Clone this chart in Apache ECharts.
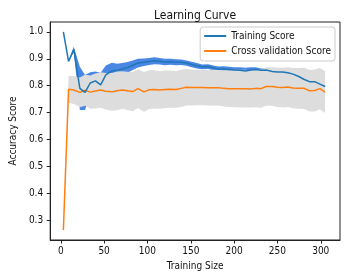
<!DOCTYPE html>
<html>
<head>
<meta charset="utf-8">
<script src="https://cdn.jsdelivr.net/npm/echarts@6/dist/echarts.min.js"></script>
<style>
html,body{margin:0;padding:0;background:#fff;}
#chart{width:346px;height:278px;}
</style>
</head>
<body>
<div id="chart"></div>
<script>
const trainSizes = [3, 9, 15, 22, 28, 34, 40, 46, 52, 59, 65, 71, 77, 83, 89, 96, 102, 108, 114, 120, 126, 133, 139, 145, 151, 157, 163, 170, 176, 182, 188, 194, 200, 207, 213, 219, 225, 231, 237, 244, 250, 256, 262, 268, 274, 281, 287, 293, 299, 305];
const trainMean = [1.0, 0.89, 0.935, 0.79, 0.775, 0.81, 0.818, 0.803, 0.84, 0.855, 0.857, 0.862, 0.868, 0.876, 0.884, 0.887, 0.89, 0.893, 0.891, 0.888, 0.889, 0.887, 0.887, 0.884, 0.879, 0.874, 0.870, 0.871, 0.866, 0.862, 0.862, 0.860, 0.858, 0.857, 0.855, 0.858, 0.860, 0.857, 0.858, 0.853, 0.851, 0.851, 0.848, 0.843, 0.835, 0.823, 0.815, 0.815, 0.806, 0.797];
const trainStd = [0.0, 0.0, 0.01, 0.08, 0.065, 0.04, 0.035, 0.045, 0.035, 0.03, 0.025, 0.022, 0.02, 0.018, 0.016, 0.014, 0.013, 0.013, 0.012, 0.012, 0.011, 0.011, 0.01, 0.01, 0.01, 0.01, 0.009, 0.009, 0.009, 0.009, 0.01, 0.01, 0.011, 0.012, 0.012, 0.011, 0.009, 0.007, 0.006, 0.005, 0.004, 0.004, 0.003, 0.003, 0.003, 0.003, 0.003, 0.003, 0.003, 0.003];
const cvMean = [0.263, 0.787, 0.784, 0.775, 0.783, 0.776, 0.78, 0.784, 0.779, 0.777, 0.781, 0.784, 0.781, 0.778, 0.789, 0.777, 0.785, 0.786, 0.784, 0.786, 0.787, 0.786, 0.79, 0.794, 0.793, 0.793, 0.793, 0.792, 0.792, 0.792, 0.790, 0.789, 0.789, 0.789, 0.789, 0.788, 0.790, 0.789, 0.797, 0.797, 0.794, 0.793, 0.795, 0.791, 0.790, 0.790, 0.781, 0.782, 0.789, 0.776];
const cvStd = [0.0, 0.05, 0.052, 0.055, 0.058, 0.062, 0.065, 0.066, 0.068, 0.07, 0.072, 0.07, 0.071, 0.073, 0.072, 0.074, 0.072, 0.071, 0.07, 0.07, 0.069, 0.068, 0.069, 0.068, 0.067, 0.066, 0.066, 0.066, 0.067, 0.066, 0.067, 0.068, 0.069, 0.07, 0.07, 0.069, 0.07, 0.071, 0.072, 0.072, 0.073, 0.074, 0.074, 0.075, 0.076, 0.077, 0.077, 0.078, 0.077, 0.078];
const xTicks = [0, 50, 100, 150, 200, 250, 300];
const yTicks = [0.3, 0.4, 0.5, 0.6, 0.7, 0.8, 0.9, 1.0];

const FONT = '"DejaVu Sans Condensed", "DejaVu Sans", sans-serif';
const pairs = (ys) => trainSizes.map((x, i) => [x, ys[i]]);

// band rows: [x, low, high]
const bandRows = (m, s) => trainSizes.map((x, i) => [x, m[i] - s[i], m[i] + s[i]]);

function bandSeries(name, rows, color, z) {
  return {
    name, type: 'custom', silent: true, z,
    data: rows,
    encode: {x: 0, y: [1, 2]},
    renderItem: function (params, api) {
      if (params.dataIndex !== 0) return null;
      const up = rows.map(r => api.coord([r[0], r[2]]));
      const lo = rows.map(r => api.coord([r[0], r[1]])).reverse();
      return {
        type: 'polygon',
        shape: {points: up.concat(lo)},
        style: {fill: color, stroke: null},
        clipPath: {
          type: 'rect',
          shape: {x: params.coordSys.x, y: params.coordSys.y, width: params.coordSys.width, height: params.coordSys.height}
        }
      };
    }
  };
}

const chart = echarts.init(document.getElementById('chart'), null, {renderer: 'canvas'});
chart.setOption({
  animation: false,
  backgroundColor: '#fff',
  textStyle: {fontFamily: FONT},
  title: {
    text: 'Learning Curve', left: 190, top: 5, textAlign: 'center',
    textStyle: {fontSize: 12, fontWeight: 'normal', color: '#111', fontFamily: FONT}
  },
  grid: {left: 40, right: 6, top: 22, bottom: 38, show: true, borderColor: '#222', borderWidth: 1, backgroundColor: 'transparent'},
  legend: {
    orient: 'vertical', right: 11, top: 27,
    itemWidth: 22, itemHeight: 2, itemGap: 5, padding: [4, 4, 5, 4],
    borderColor: '#ccc', borderWidth: 1, borderRadius: 3,
    backgroundColor: 'rgba(255,255,255,0.85)',
    textStyle: {fontSize: 10, color: '#111', fontFamily: FONT},
    data: [{name: 'Training Score', icon: 'rect'}, {name: 'Cross validation Score', icon: 'rect'}]
  },
  xAxis: {
    type: 'value', min: -12.2, max: 322.2,
    name: 'Training Size', nameLocation: 'middle', nameGap: 21,
    nameTextStyle: {fontSize: 10, color: '#111', fontFamily: FONT},
    axisLine: {show: true, onZero: false, lineStyle: {color: '#222'}},
    axisTick: {show: true, length: 3.5, lineStyle: {color: '#222'}, customValues: xTicks},
    axisLabel: {fontSize: 10, color: '#111', margin: 6, customValues: xTicks, fontFamily: FONT},
    splitLine: {show: false}
  },
  yAxis: {
    type: 'value', min: 0.2262, max: 1.0368,
    name: 'Accuracy Score', nameLocation: 'middle', nameGap: 27,
    nameTextStyle: {fontSize: 10, color: '#111', fontFamily: FONT},
    axisLine: {show: true, onZero: false, lineStyle: {color: '#222'}},
    axisTick: {show: true, length: 3.5, lineStyle: {color: '#222'}, customValues: yTicks},
    axisLabel: {fontSize: 10, color: '#111', margin: 7, customValues: yTicks, fontFamily: FONT,
      formatter: v => v.toFixed(1)},
    splitLine: {show: false}
  },
  series: [
    bandSeries('trBand', bandRows(trainMean, trainStd), '#4a86e4', 1),
    bandSeries('cvBand', bandRows(cvMean, cvStd), '#dddddd', 2),
    {name: 'Training Score', type: 'line', data: pairs(trainMean), showSymbol: false, color: '#1f77b4',
      lineStyle: {width: 1.5, color: '#1f77b4'}, z: 4},
    {name: 'Cross validation Score', type: 'line', data: pairs(cvMean), showSymbol: false, color: '#ff7f0e',
      lineStyle: {width: 1.5, color: '#ff7f0e'}, z: 3}
  ]
});
</script>
</body>
</html>
